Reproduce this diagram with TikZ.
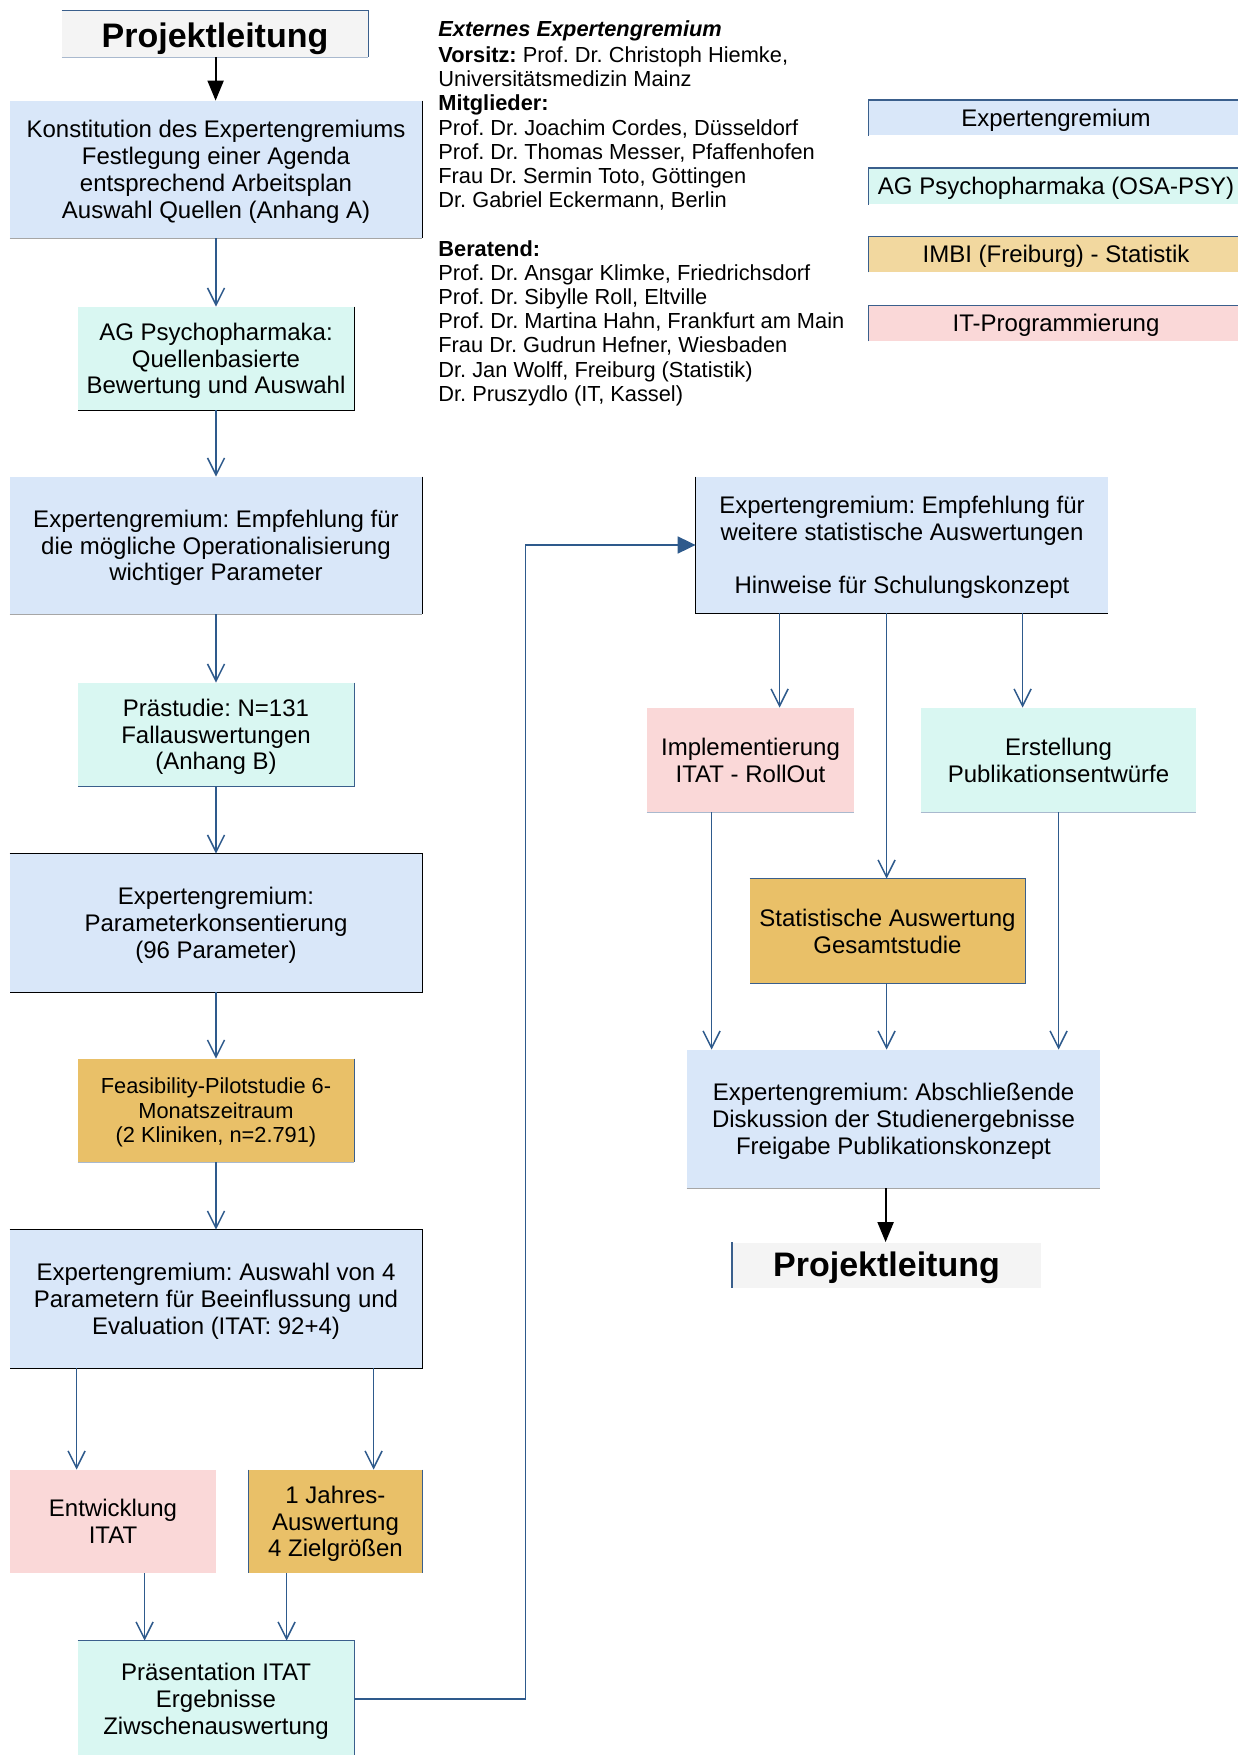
\documentclass[tikz,border=0pt]{standalone}
\usepackage{fontspec}
\setmainfont{Liberation Sans}
\usetikzlibrary{arrows.meta,calc}
\frenchspacing

\definecolor{egfill}{HTML}{D9E7F9}
\definecolor{agfill}{HTML}{D9F7F2}
\definecolor{goldfill}{HTML}{E9C068}
\definecolor{goldlight}{HTML}{F2D89F}
\definecolor{itfill}{HTML}{FAD8D8}
\definecolor{plfill}{HTML}{F4F4F4}
\definecolor{conblue}{HTML}{2E5A8C}
\definecolor{edgeblue}{HTML}{3A5F8C}
\definecolor{edgelight}{HTML}{A9B9CE}

% line struts with the font's ascent and descent, so that text lines
% are centred in their boxes the way a word processor centres them
\newcommand\ascstrut{\rule{0pt}{0.905em}}
\newcommand\descstrut{\rule[-0.212em]{0pt}{0.212em}}
% strut opening the first line of a paragraph of several lines
\newcommand\firstline{\rule{0pt}{0.93em}}

\tikzset{
  box/.style 2 args={inner sep=0pt, minimum width=#1*0.5pt, minimum height=#2*0.5pt,
    align=center, font=\fontsize{12}{13.4}\selectfont,
    execute at begin node=\ascstrut, execute at end node=\descstrut},
  plbox/.style={fill=plfill, font=\fontsize{17}{20}\selectfont\bfseries},
  arr/.style={draw=conblue, line width=0.75pt, -{Straight Barb[length=8.5pt,width=8.5pt]}},
  arrfill/.style={draw=conblue, line width=0.9pt, -{Triangle[length=9pt,width=8.5pt]}, conblue},
  arrblack/.style={draw=black, line width=1pt, -{Triangle[length=10pt,width=8pt]}},
  ebk/.style={draw=black, line width=0.75pt},
  ebl/.style={draw=edgeblue, line width=0.75pt},
  elt/.style={draw=edgelight, line width=0.6pt},
  egr/.style={draw=black!35, line width=0.6pt},
}

\begin{document}
\begin{tikzpicture}[x=0.5pt, y=-0.5pt]
\useasboundingbox (0,0) rectangle (1237,1755);

% ---------- left column ----------
\node[box={306}{46}, plbox, execute at begin node=\rule{0pt}{1.035em}] (pl1) at (215,34) {Projektleitung};
\node[box={412}{137}, fill=egfill] (konst) at (216,169.5)
  {\firstline Konstitution des Expertengremiums\\Festlegung einer Agenda\\entsprechend Arbeitsplan\\Auswahl Quellen (Anhang A)};
\node[box={276}{103}, fill=agfill] (agq) at (216,358.5)
  {\firstline AG Psychopharmaka:\\Quellenbasierte\\Bewertung und Auswahl};
\node[box={412}{137}, fill=egfill] (empf) at (216,545.5)
  {\firstline Expertengremium: Empfehlung für\\die mögliche Operationalisierung\\wichtiger Parameter};
\node[box={276}{103}, fill=agfill] (praest) at (216,734.5)
  {\firstline Prästudie: N=131\\Fallauswertungen\\(Anhang B)};
\node[box={412}{138}, fill=egfill] (param) at (216,923)
  {\firstline Expertengremium:\\Parameterkonsentierung\\(96 Parameter)};
\node[box={276}{103}, fill=goldfill, font=\fontsize{10.9}{12.3}\selectfont] (feas) at (216,1110.5)
  {\firstline Feasibility-Pilotstudie 6-\\Monatszeitraum\\(2 Kliniken, n=2.791)};
\node[box={412}{138}, fill=egfill] (ausw) at (216,1299)
  {\firstline Expertengremium: Auswahl von 4\\Parametern für Beeinflussung und\\Evaluation (ITAT: 92+4)};
\node[box={206}{103}, fill=itfill] (entw) at (113,1521.5) {\firstline Entwicklung\\ITAT};
\node[box={173}{103}, fill=goldfill] (jahr) at (335.5,1521.5)
  {\firstline 1 Jahres-\\Auswertung\\4 Zielgrößen};
\node[box={276}{116}, fill=agfill] (praes) at (216,1699)
  {\firstline Präsentation ITAT\\Ergebnisse\\Ziwschenauswertung};

% ---------- right column ----------
\node[box={412}{136}, fill=egfill] (rempf) at (902,545)
  {\firstline Expertengremium: Empfehlung für\\weitere statistische Auswertungen\\[13.4pt]Hinweise für Schulungskonzept};
\node[box={207}{104}, fill=itfill] (impl) at (750.5,760) {\firstline Implementierung\\ITAT - RollOut};
\node[box={275}{104}, fill=agfill] (erst) at (1058.5,760) {\firstline Erstellung\\Publikationsentwürfe};
\node[box={275}{104}, fill=goldfill] (stat) at (887.5,931) {\firstline Statistische Auswertung\\Gesamtstudie};
\node[box={413}{138}, fill=egfill] (absch) at (893.5,1119)
  {\firstline Expertengremium: Abschließende\\Diskussion der Studienergebnisse\\Freigabe Publikationskonzept};
\node[box={308}{45}, plbox] (pl2) at (886.5,1265) {Projektleitung};

% ---------- legend (boxes run on past the right edge) ----------
\node[box={374}{35}, fill=egfill] (lg1) at (1056,118) {Expertengremium};
\node[box={374}{36}, fill=agfill] (lg2) at (1056,186.5) {AG Psychopharmaka (OSA-PSY)};
\node[box={374}{35}, fill=goldlight] (lg3) at (1056,254.5) {IMBI (Freiburg) - Statistik};
\node[box={374}{35}, fill=itfill] (lg4) at (1056,323.5) {IT-Programmierung};

% ---------- committee members ----------
\node[anchor=north west, inner sep=0pt, align=left, font=\fontsize{10.9}{12.1}\selectfont] (members) at (438,20.5)
  {\textbf{\textit{Externes Expertengremium}}\\[0.8pt]
   \textbf{Vorsitz:} Prof. Dr. Christoph Hiemke,\\
   Universitätsmedizin Mainz\\
   \textbf{Mitglieder:}\\
   Prof. Dr. Joachim Cordes, Düsseldorf\\
   Prof. Dr. Thomas Messer, Pfaffenhofen\\
   Frau Dr. Sermin Toto, Göttingen\\
   Dr. Gabriel Eckermann, Berlin\\[12.1pt]
   \textbf{Beratend:}\\
   Prof. Dr. Ansgar Klimke, Friedrichsdorf\\
   Prof. Dr. Sibylle Roll, Eltville\\
   Prof. Dr. Martina Hahn, Frankfurt am Main\\
   Frau Dr. Gudrun Hefner, Wiesbaden\\
   Dr. Jan Wolff, Freiburg (Statistik)\\
   Dr. Pruszydlo (IT, Kassel)};

% ---------- box edges ----------
\draw[ebl] (pl1.north west) -- (pl1.north east) -- (pl1.south east);
\draw[elt] (pl1.south west) -- (pl1.south east);
\draw[ebk] (konst.north east) -- (konst.south east);
\draw[egr] (konst.south west) -- (konst.south east);
\draw[ebk] (agq.north east) -- (agq.south east) -- (agq.south west);
\draw[ebk] (empf.north east) -- (empf.south east);
\draw[egr] (empf.south west) -- (empf.south east);
\draw[ebl] (praest.north east) -- (praest.south east) -- (praest.south west);
\draw[ebk] (param.north west) -- (param.north east) -- (param.south east) -- (param.south west);
\draw[ebl] (feas.north east) -- (feas.south east);
\draw[elt] (feas.south west) -- (feas.south east);
\draw[ebk] (ausw.north west) -- (ausw.north east) -- (ausw.south east) -- (ausw.south west);
\draw[ebl] (jahr.north west) -- (jahr.south west);
\draw[ebl] (jahr.north east) -- (jahr.south east);
\draw[ebl] (praes.north west) -- (praes.north east) -- (praes.south east);
\draw[ebk] (rempf.north west) -- (rempf.south west) -- (rempf.south east);
\draw[elt] (impl.south west) -- (impl.south east);
\draw[elt] (erst.south west) -- (erst.south east);
\draw[ebl] (stat.north west) -- (stat.north east) -- (stat.south east) -- (stat.south west);
\draw[egr] (absch.south west) -- (absch.south east);
\draw[ebl] (pl2.north west) -- (pl2.south west);
\foreach \n in {lg1,lg2,lg3,lg4}
  \draw[ebl] (\n.south west) -- (\n.north west) -- (\n.north east);

% ---------- connectors ----------
\draw[arrblack] ($(pl1.south west)+(154,0)$) -- ($(konst.north west)+(206,0)$);
\draw[arr] (konst.south) -- (agq.north);
\draw[arr] (agq.south) -- (empf.north);
\draw[arr] (empf.south) -- (praest.north);
\draw[arr] (praest.south) -- (param.north);
\draw[arr] (param.south) -- (feas.north);
\draw[arr] (feas.south) -- (ausw.north);
\draw[arr] ($(ausw.south west)+(67,0)$) -- ($(entw.north west)+(67,0)$);
\draw[arr] ($(ausw.south west)+(364,0)$) -- ($(jahr.north west)+(125,0)$);
\draw[arr] ($(entw.south west)+(135,0)$) -- ($(praes.north west)+(67,0)$);
\draw[arr] ($(jahr.south west)+(38,0)$) -- ($(praes.north west)+(209,0)$);
\draw[arrfill] (praes.east) -- ++(171,0) |- (rempf.west);
\draw[arr] ($(rempf.south west)+(84,0)$) -- ($(impl.north west)+(133,0)$);
\draw[arr] ($(rempf.south west)+(191,0)$) -- ($(stat.north west)+(137,0)$);
\draw[arr] ($(rempf.south west)+(327,0)$) -- ($(erst.north west)+(102,0)$);
\draw[arr] ($(impl.south west)+(65,0)$) -- ($(absch.north west)+(25,0)$);
\draw[arr] ($(stat.south west)+(137,0)$) -- ($(absch.north west)+(200,0)$);
\draw[arr] ($(erst.south west)+(138,0)$) -- ($(absch.north west)+(372,0)$);
\draw[arrblack] ($(absch.south west)+(199,0)$) -- ($(pl2.north west)+(153.5,0)$);
\end{tikzpicture}
\end{document}
